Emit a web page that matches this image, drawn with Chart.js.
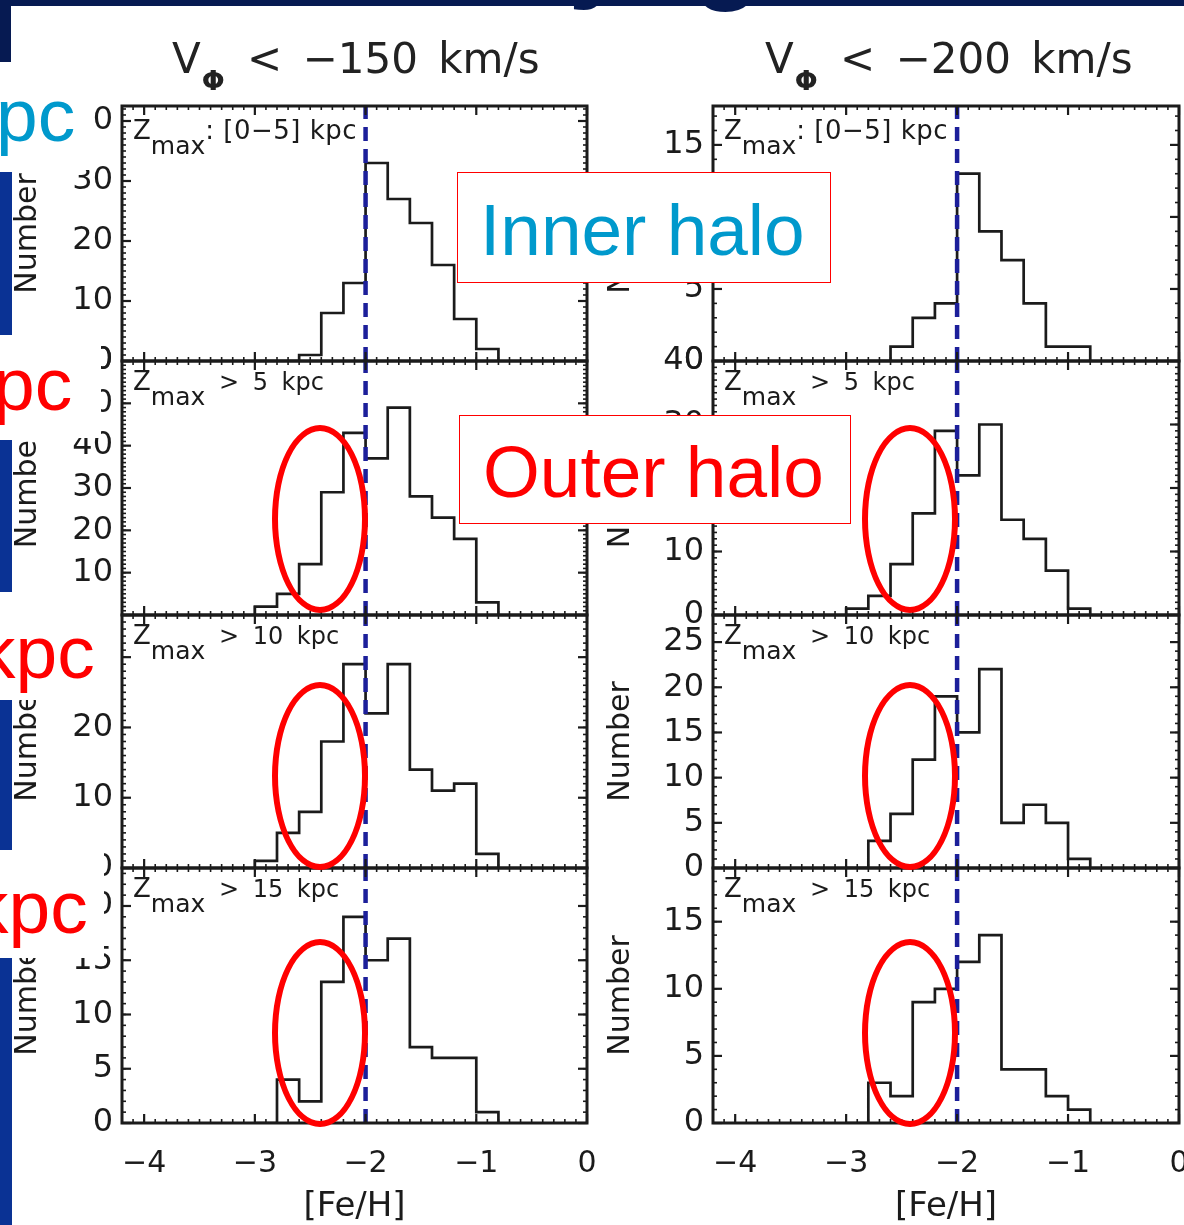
<!DOCTYPE html>
<html>
<head>
<meta charset="utf-8">
<title>[Fe/H] distributions of counter-rotating halo stars</title>
<script src="https://cdn.jsdelivr.net/npm/chart.js@4.4.1/dist/chart.umd.min.js"></script>
<style>
  html, body { margin: 0; padding: 0; }
  body {
    width: 1184px; height: 1225px; overflow: hidden; position: relative;
    background: #ffffff; font-family: "DejaVu Sans", sans-serif; color: #1b1b1b;
  }
  canvas.panel { position: absolute; z-index: 1; }
  .coltitle { position: absolute; top: 38px; font-size: 42px; line-height: 1; word-spacing: 7px; white-space: nowrap; z-index: 2; color: #222; }
  .coltitle .phi { font-size: 27px; font-weight: bold; position: relative; top: 17px; margin: 0 2px 0 1px; }
  .zlab { position: absolute; font-size: 26px; line-height: 1; white-space: pre; z-index: 2; }
  .zlab .sub { font-size: 25px; position: relative; top: 15px; }
  .zlab .rest { letter-spacing: 0.5px; }
  .zlab .rest.gt { font-size: 24px; letter-spacing: 0; word-spacing: 6px; }
  .ring { position: absolute; box-sizing: border-box; border: 6.5px solid #ff0000; border-radius: 50%; width: 96px; height: 188px; z-index: 3; }
  .slide { position: absolute; z-index: 4; }
  .bar { background: #0a3294; left: 0; width: 12px; }
  .mask { background: #ffffff; left: 0; }
  .edge { font-family: "Liberation Sans", Arial, sans-serif; font-size: 75px; line-height: 1; white-space: nowrap; }
  .cut { font-family: "Liberation Sans", Arial, sans-serif; font-weight: bold; font-size: 115px; line-height: 1; color: #061a52; white-space: nowrap; }
  .note {
    position: absolute; z-index: 5; box-sizing: border-box; background: #ffffff;
    border: 1.5px solid #ff0000; font-family: "Liberation Sans", Arial, sans-serif;
  }
  .note span { position: absolute; font-size: 73px; line-height: 1; white-space: nowrap; }
</style>
</head>
<body>

<div class="slide cut" style="left:568px; top:-111px;">y</div>
<div class="slide cut" style="left:692px; top:-109px;">g</div>
<div class="slide" style="left:0; top:0; width:1184px; height:6px; background:#061a52;"></div>
<div class="slide" style="left:0; top:0; width:11px; height:62px; background:#061a52;"></div>

<div class="coltitle" style="left:172px;">V<span class="phi">&Phi;</span> &lt; &minus;150 km/s</div>
<div class="coltitle" style="left:765px;">V<span class="phi">&Phi;</span> &lt; &minus;200 km/s</div>

<div id="labels"></div>

<div class="ring" style="left:272px; top:425px;"></div>
<div class="ring" style="left:272px; top:682px;"></div>
<div class="ring" style="left:272px; top:939px;"></div>
<div class="ring" style="left:862px; top:425px;"></div>
<div class="ring" style="left:862px; top:682px;"></div>
<div class="ring" style="left:862px; top:939px;"></div>

<div class="slide bar" style="top:172px; height:163px;"></div>
<div class="slide bar" style="top:440px; height:152px;"></div>
<div class="slide bar" style="top:700px; height:150px;"></div>
<div class="slide bar" style="top:958px; height:267px;"></div>

<div class="slide mask" style="top:62px; width:94px; height:108px;"></div>
<div class="slide mask" style="top:338px; width:101px; height:100px;"></div>
<div class="slide mask" style="top:600px; width:115px; height:100px;"></div>
<div class="slide mask" style="top:852px; width:104px; height:106px;"></div>

<div class="slide edge" style="left:-4px; top:78px; color:#0099cc;">pc</div>
<div class="slide edge" style="left:-7px; top:347px; color:#ff0000;">pc</div>
<div class="slide edge" style="left:-22px; top:615px; color:#ff0000;">kpc</div>
<div class="slide edge" style="left:-29px; top:870px; color:#ff0000;">kpc</div>

<div class="note" style="left:457px; top:172px; width:374px; height:111px;"><span style="left:22px; top:20px; color:#0099cc;">Inner halo</span></div>
<div class="note" style="left:459px; top:415px; width:392px; height:109px;"><span style="left:23px; top:19px; color:#ff0000;">Outer halo</span></div>

<script>
// [Fe/H] bin edges shared by every histogram (0.2 dex bins)
const binEdges = [-3.0, -2.8, -2.6, -2.4, -2.2, -2.0, -1.8, -1.6, -1.4, -1.2, -1.0, -0.8];

// star counts per bin, V_phi < -150 km/s
const inner150 = [0, 0, 1, 8, 13, 33, 27, 23, 16, 7, 2];
const zmax5_150 = [2, 5, 12, 29, 43, 37, 49, 28, 23, 18, 3];
const zmax10_150 = [1, 5, 8, 18, 29, 22, 29, 14, 11, 12, 2];
const zmax15_150 = [0, 4, 2, 13, 19, 15, 17, 7, 6, 6, 1];

// star counts per bin, V_phi < -200 km/s
const inner200 = [0, 0, 1, 3, 4, 13, 9, 7, 4, 1, 1];
const zmax5_200 = [1, 3, 8, 16, 29, 22, 30, 15, 12, 7, 1];
const zmax10_200 = [0, 3, 6, 12, 19, 15, 22, 5, 7, 5, 1];
const zmax15_200 = [0, 3, 2, 9, 10, 12, 14, 4, 4, 2, 1];

const xTicks = [-4, -3, -2, -1, 0];
const xRange = [-4.2, 0];
const yMax150 = [42.5, 60, 36, 23.5];
const yMax200 = [17.7, 40, 28, 19];
const yStep150 = [10, 10, 10, 5];
const yStep200 = [5, 10, 5, 5];
const zmaxText = [": [0\u22125] kpc", " > 5 kpc", " > 10 kpc", " > 15 kpc"];
const metalCut = -2;

const ink = "#1b1b1b";
const cutBlue = "#1c1f9a";

const rowTop = [106, 361, 615, 868];
const rowBottom = [361, 615, 868, 1123];
const columns = [
  { canvasLeft: 0, plotLeft: 122, plotRight: 587, titlePad: 10,
    series: [inner150, zmax5_150, zmax10_150, zmax15_150], yMax: yMax150, yStep: yStep150 },
  { canvasLeft: 600, plotLeft: 713, plotRight: 1179, titlePad: 3,
    series: [inner200, zmax5_200, zmax10_200, zmax15_200], yMax: yMax200, yStep: yStep200 }
];

Chart.defaults.font.family = "DejaVu Sans";
Chart.defaults.color = ink;

function histogramOutline(counts) {
  const points = [{ x: binEdges[0], y: 0 }];
  counts.forEach((n, i) => points.push({ x: binEdges[i], y: n }));
  points.push({ x: binEdges[binEdges.length - 1], y: 0 });
  return points;
}

function minus(value) {
  return String(value).replace("-", "\u2212");
}

function zeroPadding(scale) {
  scale.paddingTop = 0;
  scale.paddingBottom = 0;
  scale.paddingLeft = 0;
  scale.paddingRight = 0;
}

function stepValues(scale, step) {
  const values = [];
  const first = Math.ceil(scale.min / step - 1e-6);
  for (let k = first; k * step <= scale.max + 1e-6; k++) values.push(k * step);
  return values;
}

// IDL style frame: box on four sides, ticks pointing inwards
const idlFrame = {
  id: "idlFrame",
  afterDatasetsDraw(chart) {
    const { ctx, chartArea: area, scales: { x, y } } = chart;
    const stroke = (x1, y1, x2, y2) => {
      ctx.beginPath();
      ctx.moveTo(x1, y1);
      ctx.lineTo(x2, y2);
      ctx.stroke();
    };
    const xMarks = (values, len) => values.forEach((v) => {
      const px = x.getPixelForValue(v);
      stroke(px, area.bottom, px, area.bottom - len);
      stroke(px, area.top, px, area.top + len);
    });
    const yMarks = (values, len) => values.forEach((v) => {
      const py = y.getPixelForValue(v);
      stroke(area.left, py, area.left + len, py);
      stroke(area.right, py, area.right - len, py);
    });

    ctx.save();
    ctx.strokeStyle = ink;
    ctx.lineWidth = 1.6;
    xMarks(stepValues(x, 0.1), 4);
    yMarks(stepValues(y, 1), 4);
    ctx.lineWidth = 2.2;
    xMarks(x.ticks.map((t) => t.value), 9);
    yMarks(y.ticks.map((t) => t.value), 9);
    ctx.lineWidth = 3;
    ctx.strokeRect(area.left, area.top, area.width, area.height);
    ctx.restore();
  }
};

function buildPanel(column, row) {
  const isBottom = row === rowTop.length - 1;
  const canvasWidth = 600;
  const marginTop = 30;
  const marginBottom = isBottom ? 110 : 30;
  const canvas = document.createElement("canvas");
  canvas.className = "panel";
  canvas.width = canvasWidth;
  canvas.height = rowBottom[row] - rowTop[row] + marginTop + marginBottom;
  canvas.style.left = `${column.canvasLeft}px`;
  canvas.style.top = `${rowTop[row] - marginTop}px`;
  document.body.appendChild(canvas);

  const yMax = column.yMax[row];

  new Chart(canvas, {
    type: "line",
    data: {
      datasets: [
        {
          data: [{ x: metalCut, y: 0 }, { x: metalCut, y: yMax }],
          borderColor: cutBlue,
          borderWidth: 4.5,
          borderDash: [14, 8],
          pointRadius: 0,
          order: 0
        },
        {
          data: histogramOutline(column.series[row]),
          stepped: "before",
          borderColor: ink,
          borderWidth: 2.7,
          pointRadius: 0,
          order: 1
        }
      ]
    },
    options: {
      responsive: false,
      animation: false,
      events: [],
      layout: {
        padding: {
          left: 0,
          top: marginTop,
          right: canvasWidth - (column.plotRight - column.canvasLeft),
          bottom: isBottom ? 0 : marginBottom
        }
      },
      plugins: { legend: { display: false }, tooltip: { enabled: false } },
      scales: {
        x: {
          type: "linear",
          min: xRange[0],
          max: xRange[1],
          grid: { display: false, drawTicks: false },
          border: { display: false },
          afterBuildTicks: (scale) => {
            scale.ticks = xTicks.map((value) => ({ value }));
          },
          afterFit: (scale) => {
            scale.height = isBottom ? marginBottom : 0;
            zeroPadding(scale);
          },
          ticks: {
            display: isBottom,
            padding: 23,
            font: { size: 30 },
            maxRotation: 0,
            autoSkip: false,
            callback: (value) => minus(value)
          },
          title: {
            display: isBottom,
            text: "[Fe/H]",
            font: { size: 34 },
            padding: { top: 0, bottom: 5 }
          }
        },
        y: {
          type: "linear",
          min: 0,
          max: yMax,
          grid: { display: false, drawTicks: false },
          border: { display: false },
          afterFit: (scale) => {
            scale.width = column.plotLeft - column.canvasLeft;
            zeroPadding(scale);
          },
          ticks: {
            stepSize: column.yStep[row],
            includeBounds: false,
            autoSkip: false,
            padding: 9,
            font: { size: 32 }
          },
          title: {
            display: true,
            text: "Number",
            font: { size: 30 },
            padding: { top: column.titlePad, bottom: 0 }
          }
        }
      }
    },
    plugins: [idlFrame]
  });

  const label = document.createElement("div");
  label.className = "zlab";
  label.style.left = `${column.plotLeft + 11}px`;
  label.style.top = `${rowTop[row] + (row === 0 ? 11 : 7)}px`;
  const restClass = row === 0 ? "rest" : "rest gt";
  label.innerHTML = `Z<span class="sub">max</span><span class="${restClass}">${zmaxText[row]}</span>`;
  document.getElementById("labels").appendChild(label);
}

columns.forEach((column) => {
  rowTop.forEach((_, row) => buildPanel(column, row));
});
</script>
</body>
</html>
